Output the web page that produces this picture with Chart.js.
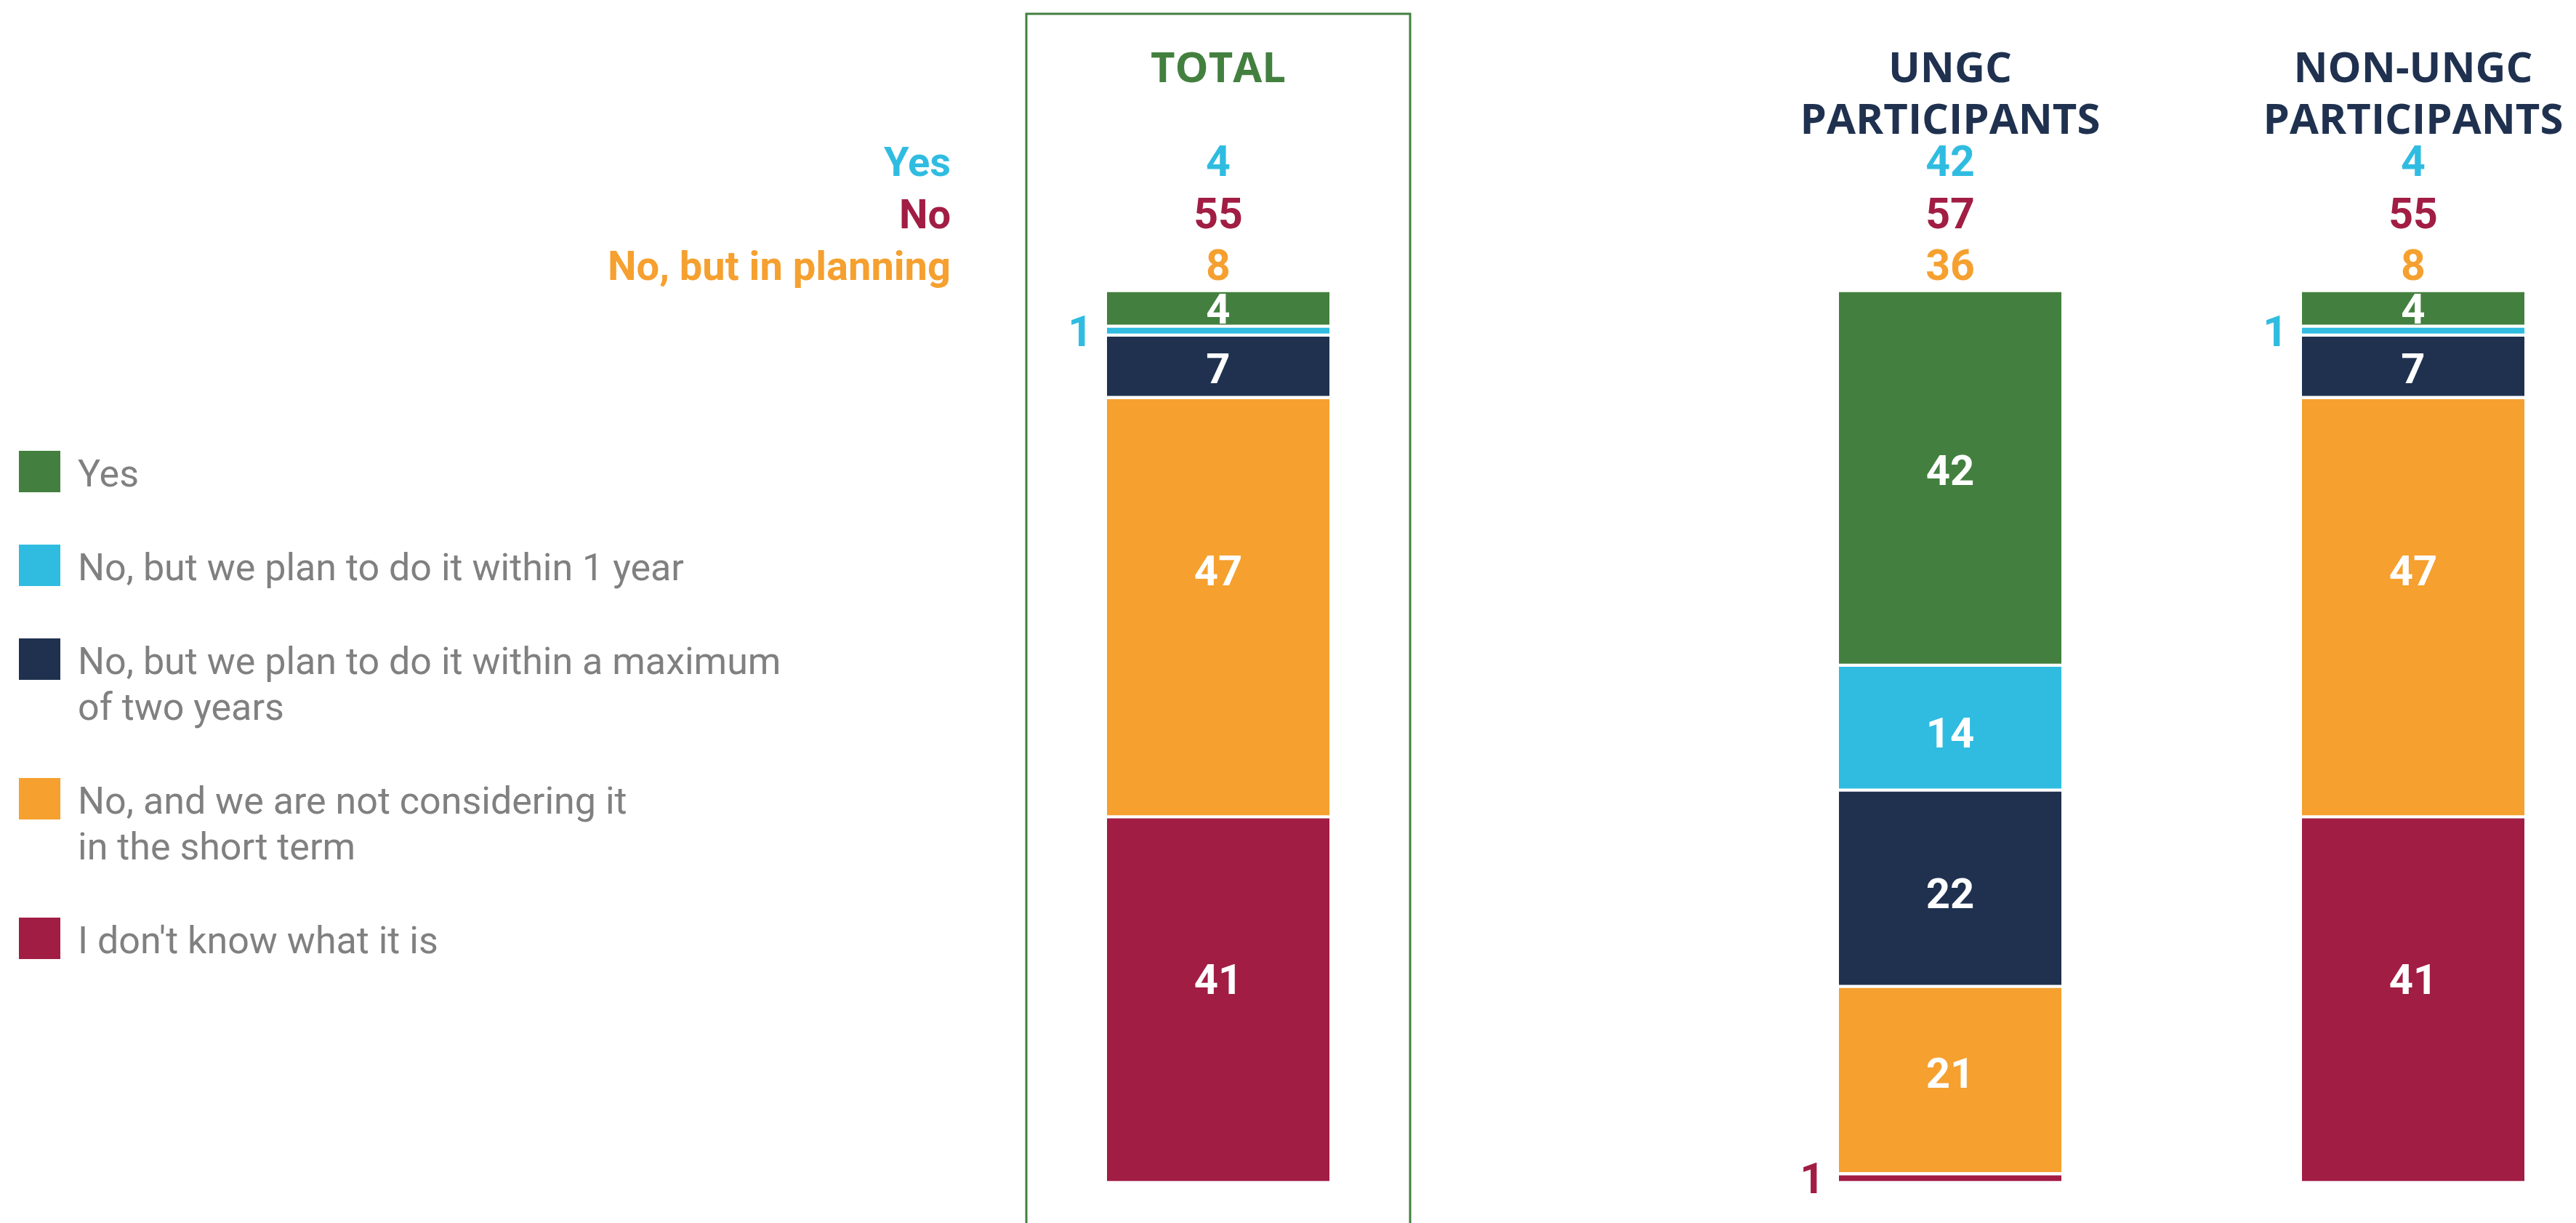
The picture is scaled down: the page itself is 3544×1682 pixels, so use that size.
<!DOCTYPE html>
<html>
<head>
<meta charset="utf-8">
<script src="https://cdn.jsdelivr.net/npm/chart.js@4.4.1/dist/chart.umd.min.js"></script>
<style>
  html, body { margin: 0; padding: 0; background: #fff; }
  #wrap { position: relative; width: 3544px; height: 1682px; }
</style>
</head>
<body>
<div id="wrap"><canvas id="chart"></canvas></div>
<script>
// ─── Data ────────────────────────────────────────────────────────────────────

const columns = [['TOTAL'], ['UNGC', 'PARTICIPANTS'], ['NON-UNGC', 'PARTICIPANTS']];

const answers = [
  ['Yes'],
  ['No, but we plan to do it within 1 year'],
  ['No, but we plan to do it within a maximum', 'of two years'],
  ['No, and we are not considering it', 'in the short term'],
  ["I don't know what it is"],
];

const yes = [4, 42, 4];
const within1Year = [1, 14, 1];
const within2Years = [7, 22, 7];
const notConsidering = [47, 21, 47];
const dontKnow = [41, 1, 41];

const summaryLabels = ['Yes', 'No', 'No, but in planning'];
const summaryTotal = [4, 55, 8];
const summaryUngc = [42, 57, 36];
const summaryNonUngc = [4, 55, 8];

// ─── Styles / layout ─────────────────────────────────────────────────────────

const GREEN = '#43803f', CYAN = '#30bce1', NAVY = '#1f314f', ORANGE = '#f5a02f', RED = '#a11d44', GREY = '#808080';
const answerColors = [GREEN, CYAN, NAVY, ORANGE, RED];
const summaryColors = [CYAN, RED, ORANGE];

// column centres on a linear x axis that spans the canvas width
const colCenters = [1676, 2683, 3320];
const summaryCols = [summaryTotal, summaryUngc, summaryNonUngc];
const rowBaselines = [242, 314, 385];
const F = 'Roboto, "Noto Sans", sans-serif';
const HF = '"Open Sans", Roboto, sans-serif';

// vertical tweak (px) of the in-bar numbers, per answer, per column
const labelNudge = [[0, -11, 0], [0, 7, 0], [3, 7, 3], [-51, -10, -51], [-29, 0, -29]];

// stacked bottom → top
const series = [
  { idx: 4, data: dontKnow },
  { idx: 3, data: notConsidering },
  { idx: 2, data: within2Years },
  { idx: 1, data: within1Year },
  { idx: 0, data: yes },
];

const overlay = {
  id: 'overlay',
  afterDatasetsDraw(chart) {
    const { ctx } = chart;
    const xs = chart.scales.x;
    ctx.save();

    // frame round the total column
    const c0 = xs.getPixelForValue(colCenters[0]);
    ctx.strokeStyle = GREEN;
    ctx.lineWidth = 3;
    ctx.strokeRect(c0 - 264, 19, 528, 1720);

    // column headers
    ctx.textAlign = 'center';
    ctx.textBaseline = 'alphabetic';
    ctx.font = `bold 58px ${HF}`;
    columns.forEach((lines, i) => {
      ctx.fillStyle = i === 0 ? GREEN : NAVY;
      lines.forEach((t, j) => ctx.fillText(t, xs.getPixelForValue(colCenters[i]), 113 + j * 71));
    });

    // summary rows
    ctx.textAlign = 'right';
    ctx.font = `bold 56px ${F}`;
    summaryLabels.forEach((t, r) => {
      ctx.fillStyle = summaryColors[r];
      ctx.fillText(t, 1308, rowBaselines[r]);
    });
    ctx.textAlign = 'center';
    ctx.font = `bold 59px ${F}`;
    summaryCols.forEach((vals, i) => {
      vals.forEach((v, r) => {
        ctx.fillStyle = summaryColors[r];
        ctx.fillText(String(v), xs.getPixelForValue(colCenters[i]), rowBaselines[r]);
      });
    });

    // numbers on the bars
    chart.data.datasets.forEach((ds, di) => {
      const meta = chart.getDatasetMeta(di);
      const a = series[di].idx;
      meta.data.forEach((bar, i) => {
        const v = ds.data[i].y;
        const cy = (bar.y + bar.base) / 2;
        if (v <= 1) {
          ctx.fillStyle = answerColors[a];
          ctx.textAlign = 'right';
          ctx.font = `bold 59px ${F}`;
          ctx.fillText(String(v), bar.x - bar.width / 2 - 20, cy + 21);
        } else {
          ctx.fillStyle = '#ffffff';
          ctx.textAlign = 'center';
          ctx.font = `bold 58px ${F}`;
          ctx.fillText(String(v), bar.x, cy + 20.6 + labelNudge[a][i]);
        }
      });
    });

    // legend
    let top = 620;
    ctx.textAlign = 'left';
    ctx.font = `52px ${F}`;
    answers.forEach((lines, k) => {
      ctx.fillStyle = answerColors[k];
      ctx.fillRect(26, top, 57, 57);
      ctx.fillStyle = GREY;
      lines.forEach((t, j) => ctx.fillText(t, 107, top + 49 + j * 63));
      top += 129 + 63 * (lines.length - 1);
    });

    ctx.restore();
  },
};

new Chart(document.getElementById('chart'), {
  type: 'bar',
  data: {
    datasets: series.map(s => ({
      label: answers[s.idx].join(' '),
      data: s.data.map((v, i) => ({ x: colCenters[i], y: v })),
      backgroundColor: answerColors[s.idx],
      borderColor: '#ffffff',
      borderWidth: { top: 2.5, bottom: 2.5, left: 0, right: 0 },
      borderSkipped: false,
      barThickness: 306,
    })),
  },
  options: {
    responsive: true,
    maintainAspectRatio: false,
    animation: false,
    layout: { padding: { top: 399.5, bottom: 55.5, left: 0, right: 0 } },
    plugins: { legend: { display: false }, tooltip: { enabled: false } },
    scales: {
      x: { type: 'linear', min: 0, max: 3544, offset: false, stacked: true, display: false },
      y: { min: 0, max: 100, stacked: true, display: false },
    },
  },
  plugins: [overlay],
});
</script>
</body>
</html>
